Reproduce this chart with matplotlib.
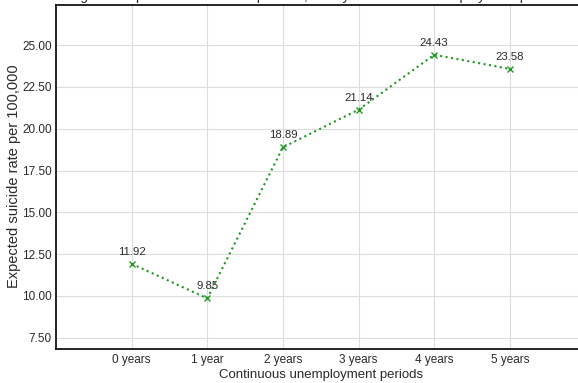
import matplotlib
matplotlib.use("Agg")
import matplotlib.pyplot as plt

plt.rcParams['font.family'] = ['Liberation Sans', 'DejaVu Sans']

periods = ["0 years", "1 year", "2 years", "3 years", "4 years", "5 years"]
rates = [11.92, 9.85, 18.89, 21.14, 24.43, 23.58]
yticks = [7.5, 10.0, 12.5, 15.0, 17.5, 20.0, 22.5, 25.0]

fig = plt.figure(figsize=(5.78, 3.83), dpi=100)
ax = fig.add_axes([0.0969, 0.090, 0.916, 0.898])

x = list(range(len(periods)))
ax.plot(x, rates, linestyle=':', color='#1f9a1f', marker='x', markersize=5,
        linewidth=1.5, zorder=3)
for xi, v in zip(x, rates):
    ax.annotate(f"{v:.2f}", (xi, v), xytext=(0, 5), textcoords='offset points',
                ha='center', va='bottom', fontsize=8.2, color='#2a2a2a')

ax.set_xlim(-1, 6)
ax.set_ylim(min(rates) - 3, max(rates) + 3)
ax.set_xticks(x)
ax.set_xticklabels(periods)
ax.set_yticks(yticks)
ax.set_yticklabels([f"{t:.2f}" for t in yticks])
ax.tick_params(length=0, labelsize=8.5, labelcolor='#2a2a2a')
ax.tick_params(axis='y', pad=3)
ax.tick_params(axis='x', pad=4)
ax.grid(True, color='#dddddd', linewidth=0.8)
ax.set_axisbelow(True)
for s in ['left', 'bottom', 'top']:
    ax.spines[s].set_color('black')
    ax.spines[s].set_linewidth(1.2)
ax.spines['right'].set_visible(False)

ax.set_xlabel("Continuous unemployment periods", fontsize=9.5, color='#2a2a2a', labelpad=2)
ax.set_ylabel("Expected suicide rate per 100,000", fontsize=10.5, color='#2a2a2a', labelpad=0.5)
ax.set_title("Changes in expected suicide rate per 100,000 by continuous unemployment periods",
             fontsize=10, pad=3.2, color='#2a2a2a', x=0.473)

fig.savefig("out.png", dpi=100)
